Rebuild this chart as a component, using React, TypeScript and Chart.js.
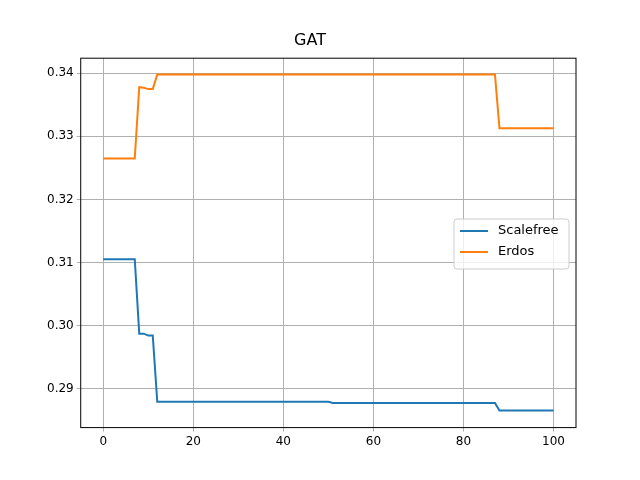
import { useEffect, useRef } from "react";
import { Chart, registerables } from "chart.js";

Chart.register(...registerables);

const steps: number[] = Array.from({ length: 101 }, (_, i) => i);

// step values: [fromX, value]
const scalefreeSteps: [number, number][] = [
  [0, 0.3105], [8, 0.2987], [10, 0.2984], [12, 0.2879], [51, 0.2877], [88, 0.2865],
];
const erdosSteps: [number, number][] = [
  [0, 0.3265], [8, 0.3378], [9, 0.3377], [10, 0.3375], [12, 0.3398], [88, 0.3313],
];

const expand = (s: [number, number][]) =>
  steps.map((x) => {
    let v = s[0][1];
    for (const [from, val] of s) if (x >= from) v = val;
    return { x, y: v };
  });

const legendItems = [
  { label: "Scalefree", color: "#1f77b4" },
  { label: "Erdos", color: "#ff7f0e" },
];

const frameAndLegend = {
  id: "frameAndLegend",
  afterDraw(chart: Chart) {
    const { ctx, chartArea: a } = chart;
    ctx.save();
    ctx.strokeStyle = "#000";
    ctx.lineWidth = 1;
    ctx.strokeRect(a.left, a.top, a.right - a.left, a.bottom - a.top);
    const w = 115, h = 50, x = a.right - w - 7, y = 219;
    ctx.fillStyle = "rgba(255,255,255,0.8)";
    ctx.strokeStyle = "#ccc";
    ctx.beginPath();
    ctx.roundRect(x, y, w, h, 3);
    ctx.fill();
    ctx.stroke();
    ctx.font = "13px 'DejaVu Sans'";
    ctx.textBaseline = "middle";
    legendItems.forEach((it, i) => {
      const cy = y + 12 + i * 21;
      ctx.strokeStyle = it.color;
      ctx.lineWidth = 2;
      ctx.beginPath();
      ctx.moveTo(x + 6, cy);
      ctx.lineTo(x + 34, cy);
      ctx.stroke();
      ctx.fillStyle = "#000";
      ctx.fillText(it.label, x + 44, cy);
    });
    ctx.restore();
  },
};

export default function App() {
  const canvasRef = useRef<HTMLCanvasElement | null>(null);

  useEffect(() => {
    if (!canvasRef.current) return;
    document.body.style.margin = "0";
    const tickFont = { family: "DejaVu Sans", size: 12 };
    const chart = new Chart(canvasRef.current, {
      type: "line",
      data: {
        datasets: [
          { label: "Scalefree", data: expand(scalefreeSteps), borderColor: "#1f77b4", borderWidth: 2, pointRadius: 0 },
          { label: "Erdos", data: expand(erdosSteps), borderColor: "#ff7f0e", borderWidth: 2, pointRadius: 0 },
        ],
      },
      options: {
        responsive: false,
        animation: false,
        layout: { padding: { left: 44, right: 64, top: 13, bottom: 28 } },
        plugins: {
          legend: { display: false },
          tooltip: { enabled: false },
          title: {
            display: true,
            text: "GAT",
            color: "#000",
            font: { family: "DejaVu Sans", size: 16, weight: "normal" },
            padding: { top: 18, bottom: 8 },
          },
        },
        scales: {
          x: {
            type: "linear",
            min: -5,
            max: 105,
            afterBuildTicks: (s) => {
              s.ticks = [0, 20, 40, 60, 80, 100].map((v) => ({ value: v }));
            },
            grid: { color: "#b0b0b0", drawTicks: true, tickLength: 4 },
            border: { display: false },
            ticks: { color: "#000", font: tickFont, maxRotation: 0 },
          },
          y: {
            min: 0.2838,
            max: 0.3424,
            afterBuildTicks: (s) => {
              s.ticks = [0.29, 0.3, 0.31, 0.32, 0.33, 0.34].map((v) => ({ value: v }));
            },
            grid: { color: "#b0b0b0", tickLength: 4 },
            border: { display: false },
            ticks: { color: "#000", font: tickFont, callback: (v) => Number(v).toFixed(2) },
          },
        },
      },
      plugins: [frameAndLegend],
    });
    return () => chart.destroy();
  }, []);

  return <canvas ref={canvasRef} width={640} height={480} />;
}
